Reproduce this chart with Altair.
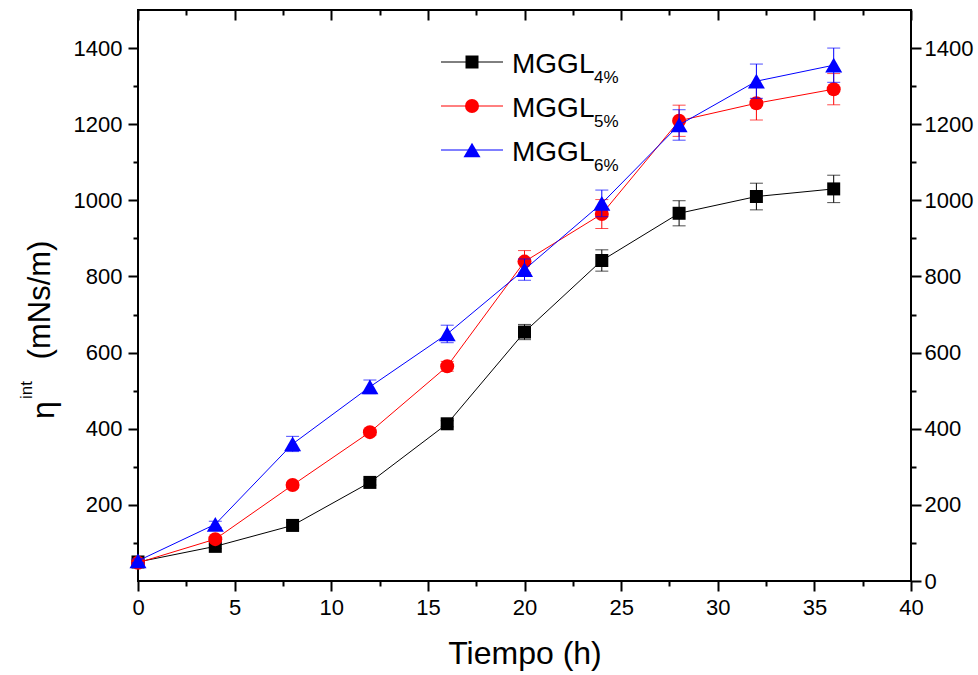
import altair as alt
import pandas as pd

# ---- data ----
hours = [0, 4, 8, 12, 16, 20, 24, 28, 32, 36]
mggl4 = [50, 91, 146, 259, 413, 654, 842, 966, 1010, 1030]
mggl4_err = [5, 6, 7, 7, 8, 20, 28, 33, 35, 36]
mggl5 = [48, 110, 252, 391, 564, 839, 964, 1209, 1255, 1292]
mggl5_err = [5, 6, 7, 8, 13, 29, 38, 41, 44, 41]
mggl6 = [53, 149, 360, 510, 649, 818, 992, 1198, 1313, 1355]
mggl6_err = [5, 8, 20, 18, 23, 28, 35, 40, 45, 45]

series_main = ["MGGL", "MGGL", "MGGL"]
series_sub = ["4%", "5%", "6%"]
series_keys = ["MGGL4%", "MGGL5%", "MGGL6%"]

x_major = [0, 5, 10, 15, 20, 25, 30, 35, 40]
x_minor = [2.5, 7.5, 12.5, 17.5, 22.5, 27.5, 32.5, 37.5]
y_left_major = [200, 400, 600, 800, 1000, 1200, 1400]
y_right_major = [0, 200, 400, 600, 800, 1000, 1200, 1400]
y_minor = [100, 300, 500, 700, 900, 1100, 1300]

colors = ["#000000", "#ff0000", "#0000ff"]
shapes = ["square", "circle", "triangle-up"]
sizes = [169, 196, 289]

FONT = "Liberation Sans"

xs = alt.Scale(domain=[0, 40], nice=False, zero=False)
ys = alt.Scale(domain=[0, 1500], nice=False, zero=False)

common = dict(domain=False, grid=False, tickColor="black", tickWidth=2,
              labelColor="black", labelFont=FONT, format="d")

ax_bottom = alt.Axis(orient="bottom", values=x_major, tickSize=10, labelFontSize=22,
                     labelPadding=6, labelFlush=False, labelOverlap=False, **common,
                     title="Tiempo (h)", titleFontSize=32, titleFontWeight="normal",
                     titleFont=FONT, titleColor="black", titlePadding=20)
ax_bottom_minor = alt.Axis(orient="bottom", values=x_minor, tickSize=5, labels=False,
                           title=None, **common)
ax_top = alt.Axis(orient="top", offset=-10, values=x_major, tickSize=10, labels=False,
                  title=None, **common)
ax_top_minor = alt.Axis(orient="top", offset=-5, values=x_minor, tickSize=5, labels=False,
                        title=None, **common)

ax_left = alt.Axis(orient="left", values=y_left_major, tickSize=10, labelFontSize=22,
                   labelPadding=6, labelOverlap=False, title=None, **common)
ax_left_minor = alt.Axis(orient="left", values=y_minor, tickSize=5, labels=False,
                         title=None, **common)
ax_right = alt.Axis(orient="right", values=y_right_major, tickSize=10, labelFontSize=22,
                    labelPadding=3, labelOverlap=False, title=None, **common)
ax_right_minor = alt.Axis(orient="right", values=y_minor, tickSize=5, labels=False,
                          title=None, **common)

axis_pairs = [
    (ax_bottom, ax_left),
    (ax_bottom_minor, ax_left_minor),
    (ax_top, ax_right),
    (ax_top_minor, ax_right_minor),
]

values = [mggl4, mggl5, mggl6]
errors = [mggl4_err, mggl5_err, mggl6_err]

layers = []
counter = [0]


def next_axes():
    k = counter[0]
    counter[0] += 1
    if k < len(axis_pairs):
        return axis_pairs[k]
    return None, None


for i in range(3):
    df = pd.DataFrame({
        "t": hours,
        "v": values[i],
        "lo": [v - e for v, e in zip(values[i], errors[i])],
        "hi": [v + e for v, e in zip(values[i], errors[i])],
    })
    base = alt.Chart(df)

    ax, ay = next_axes()
    rule = base.mark_rule(color=colors[i], strokeWidth=1).encode(
        x=alt.X("t:Q", scale=xs, axis=ax),
        y=alt.Y("lo:Q", scale=ys, axis=ay),
        y2="hi:Q",
    )
    ax, ay = next_axes()
    cap_hi = base.mark_tick(color=colors[i], orient="horizontal", size=13, thickness=1).encode(
        x=alt.X("t:Q", scale=xs, axis=ax),
        y=alt.Y("hi:Q", scale=ys, axis=ay),
    )
    ax, ay = next_axes()
    cap_lo = base.mark_tick(color=colors[i], orient="horizontal", size=13, thickness=1).encode(
        x=alt.X("t:Q", scale=xs, axis=ax),
        y=alt.Y("lo:Q", scale=ys, axis=ay),
    )
    ax, ay = next_axes()
    line = base.mark_line(color=colors[i], strokeWidth=1).encode(
        x=alt.X("t:Q", scale=xs, axis=ax),
        y=alt.Y("v:Q", scale=ys, axis=ay),
    )
    pts = base.mark_point(shape=shapes[i], size=sizes[i], filled=True, opacity=1,
                          color=colors[i]).encode(
        x=alt.X("t:Q", scale=xs, axis=None),
        y=alt.Y("v:Q", scale=ys, axis=None),
    )
    layers += [rule, cap_hi, cap_lo, line, pts]

# ---- manual legend (with subscripts) ----
for i in range(3):
    ld = alt.Chart(pd.DataFrame({"key": [series_keys[i]]}))
    yl = 52 + 44 * i
    layers.append(ld.mark_rule(color=colors[i], strokeWidth=1).encode(
        x=alt.value(303), x2=alt.value(365), y=alt.value(yl)))
    layers.append(ld.mark_point(shape=shapes[i], size=sizes[i], filled=True, opacity=1,
                                color=colors[i]).encode(x=alt.value(334), y=alt.value(yl)))
    layers.append(ld.mark_text(text=series_main[i], font=FONT, fontSize=28, align="left",
                               baseline="alphabetic", color="black").encode(
        x=alt.value(374), y=alt.value(yl + 11)))
    layers.append(ld.mark_text(text=series_sub[i], font=FONT, fontSize=17, align="left",
                               baseline="alphabetic", color="black").encode(
        x=alt.value(456), y=alt.value(yl + 21)))

# ---- y-axis title: eta with superscript "int" ----
td = alt.Chart(pd.DataFrame({"k": [0]}))
layers.append(td.mark_text(text="(mNs/m)", font=FONT, fontSize=31, angle=270, align="center",
                           baseline="middle", color="black").encode(
    x=alt.value(-97), y=alt.value(290)))
layers.append(td.mark_text(text="η", font=FONT, fontSize=32, angle=270, align="center",
                           baseline="middle", color="black").encode(
    x=alt.value(-94), y=alt.value(400)))
layers.append(td.mark_text(text="int", font=FONT, fontSize=17, angle=270, align="center",
                           baseline="middle", color="black").encode(
    x=alt.value(-111), y=alt.value(380)))

chart = alt.layer(*layers).properties(
    width=773, height=571,
    padding={"left": 138, "top": 10, "right": 67, "bottom": 94},
    autosize=alt.AutoSizeParams(type="none"),
).resolve_axis(x="independent", y="independent").configure(
    font=FONT,
    view=alt.ViewConfig(stroke="black", strokeWidth=2),
)

chart.save("out.html", embed_options={"renderer": "svg", "actions": False})
